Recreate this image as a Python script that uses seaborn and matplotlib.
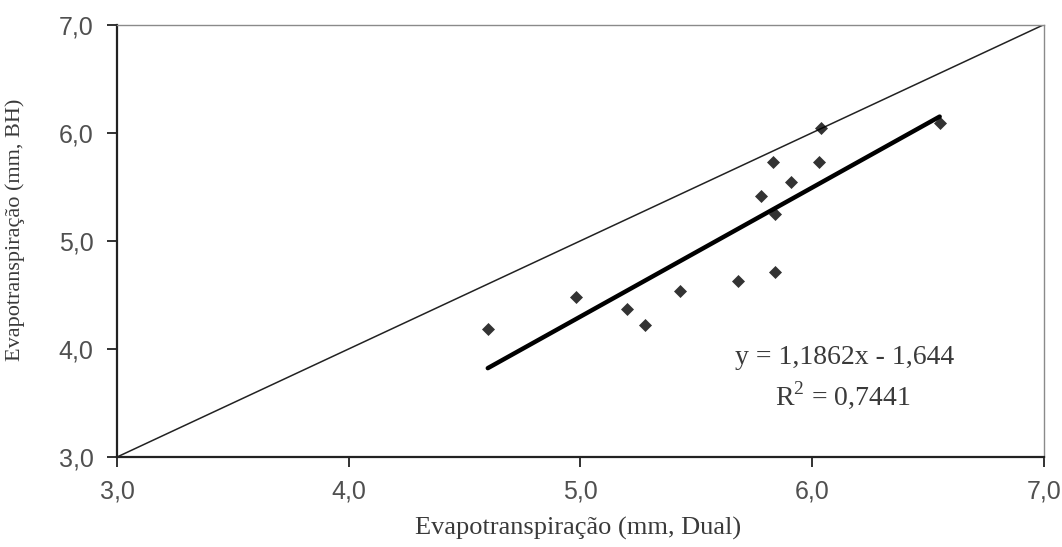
import numpy as np
import pandas as pd
import matplotlib
matplotlib.use("Agg")
import matplotlib.pyplot as plt
import seaborn as sns

# --- data ---
dual = [4.60, 4.98, 5.20, 5.28, 5.43, 5.68, 5.78, 5.83, 5.91, 5.84, 5.84, 6.04, 6.03, 6.55]
bh   = [4.18, 4.48, 4.37, 4.22, 4.54, 4.63, 5.41, 5.73, 5.54, 5.25, 4.71, 6.04, 5.73, 6.09]
ticks = [3.0, 4.0, 5.0, 6.0, 7.0]
tick_labels = ["3,0", "4,0", "5,0", "6,0", "7,0"]
eq_text = "y = 1,1862x - 1,644"
r2_text = "R$^2$ = 0,7441"

df = pd.DataFrame({"dual": dual, "bh": bh})

sns.set_style("white")
plt.rcParams["font.family"] = ["Liberation Serif", "DejaVu Serif"]
plt.rcParams["mathtext.fontset"] = "custom"
plt.rcParams["mathtext.rm"] = "Liberation Serif"
TXT = "#3a3a3a"
TICKTXT = "#505050"

fig = plt.figure(figsize=(10.62, 5.47), dpi=100)
ax = fig.add_axes([0.1102, 0.1645, 0.983 - 0.1102, 0.955 - 0.1645])

# 1:1 line
ax.plot([3, 7], [3, 7], color="#222222", lw=1.1, zorder=2)

# points + linear trend line over the data range
sns.regplot(data=df, x="dual", y="bh", ax=ax, ci=None, truncate=True,
            marker="D",
            scatter_kws=dict(s=44, color="black", edgecolors="black", linewidths=0, zorder=4),
            line_kws=dict(color="black", lw=3.2, zorder=3))

ax.set_xlim(3, 7)
ax.set_ylim(3, 7)
ax.set_xticks(ticks)
ax.set_yticks(ticks)
ax.set_xticklabels(tick_labels)
ax.set_yticklabels(tick_labels)
for lab in ax.get_xticklabels() + ax.get_yticklabels():
    lab.set_family(["Liberation Sans", "DejaVu Sans"])
    lab.set_fontsize(18)
    lab.set_color(TICKTXT)
ax.tick_params(axis="both", direction="out", length=7, width=1.3, color="#222222", bottom=True, left=True)
ax.tick_params(axis="x", pad=9)
ax.tick_params(axis="y", pad=10)

for side in ["left", "bottom"]:
    ax.spines[side].set_color("#222222")
    ax.spines[side].set_linewidth(1.6)
for side in ["top", "right"]:
    ax.spines[side].set_color("#8a8a8a")
    ax.spines[side].set_linewidth(1.0)

ax.set_xlabel("Evapotranspiração (mm, Dual)", fontsize=19, color=TXT)
ax.set_ylabel("Evapotranspiração (mm, BH)", fontsize=16, color=TXT)
ax.xaxis.set_label_coords(0.497, -0.138)
ax.yaxis.set_label_coords(-0.099, 0.525)

ax.text(6.141, 3.924, eq_text, fontsize=20, color=TXT, ha="center", va="center")
ax.text(6.133, 3.573, r2_text, fontsize=20, color=TXT, ha="center", va="center")

fig.savefig("out.png", dpi=100, facecolor="white")
